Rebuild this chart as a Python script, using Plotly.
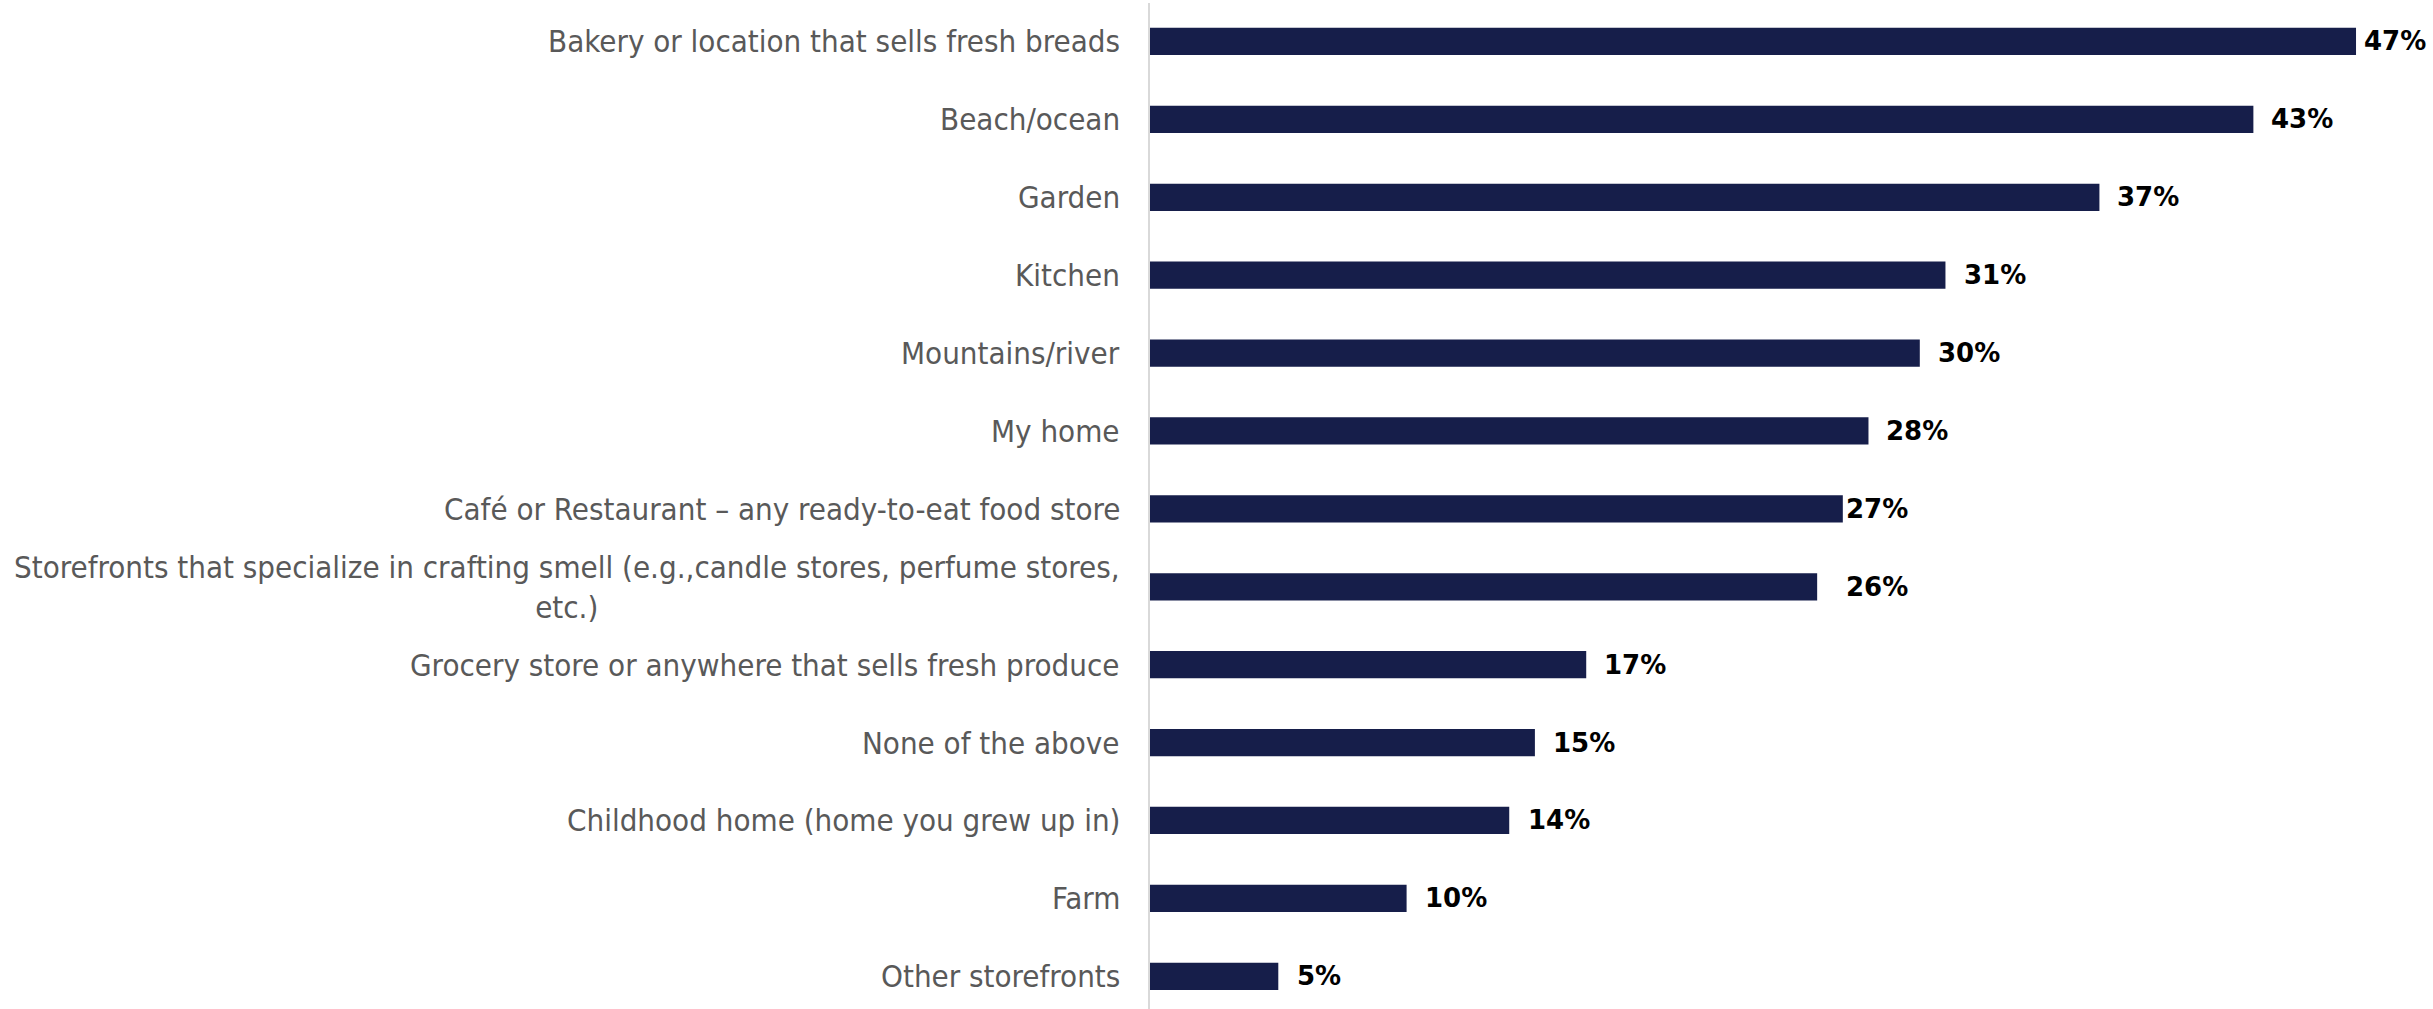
import plotly.graph_objects as go

# Survey answers, listed top to bottom
categories = [
    "Bakery or location that sells fresh breads",
    "Beach/ocean",
    "Garden",
    "Kitchen",
    "Mountains/river",
    "My home",
    "Café or Restaurant – any ready-to-eat food store",
    "Storefronts that specialize in crafting smell (e.g.,candle stores, perfume stores,<br>etc.)",
    "Grocery store or anywhere that sells fresh produce",
    "None of the above",
    "Childhood home (home you grew up in)",
    "Farm",
    "Other storefronts",
]
values = [47, 43, 37, 31, 30, 28, 27, 26, 17, 15, 14, 10, 5]
value_labels = [f"{v}%" for v in values]

# horizontal gap (px) between each bar end and its value label
label_gaps = [6, 16, 16, 17, 16, 16, 1, 27, 16, 16, 17, 16, 17]

BAR_COLOR = "#161E4A"
LABEL_FONT = "DejaVu Sans Condensed, DejaVu Sans, sans-serif"

idx = list(range(len(categories)))

fig = go.Figure(
    go.Bar(
        x=values,
        y=idx,
        orientation="h",
        width=0.35,
        marker=dict(color=BAR_COLOR, line=dict(width=0)),
        hoverinfo="skip",
    )
)

annotations = []
# category labels to the left of the axis
for i, cat in enumerate(categories):
    annotations.append(
        dict(
            x=0, y=i, xref="x", yref="y",
            text=cat, showarrow=False,
            xanchor="right", yanchor="middle", align="center",
            xshift=-28,
            font=dict(family=LABEL_FONT, size=31, color="#595959"),
        )
    )
# value labels at the end of each bar
for i, (v, lab, gap) in enumerate(zip(values, value_labels, label_gaps)):
    annotations.append(
        dict(
            x=v, y=i, xref="x", yref="y",
            text=f"<b>{lab}</b>", showarrow=False,
            xanchor="left", yanchor="middle",
            xshift=gap,
            font=dict(family="DejaVu Sans, sans-serif", size=26, color="#000000"),
        )
    )

fig.update_layout(
    width=2433,
    height=1009,
    margin=dict(l=1150, r=0, t=3, b=0),
    paper_bgcolor="white",
    plot_bgcolor="white",
    showlegend=False,
    annotations=annotations,
    xaxis=dict(
        range=[0, 50],
        showgrid=False, zeroline=False, showticklabels=False,
        showline=False, ticks="",
    ),
    yaxis=dict(
        range=[12.42, -0.494],
        showgrid=False, zeroline=False, showticklabels=False, ticks="",
        showline=True, linecolor="#D9D9D9", linewidth=2,
    ),
)

fig.write_html("out.html")
